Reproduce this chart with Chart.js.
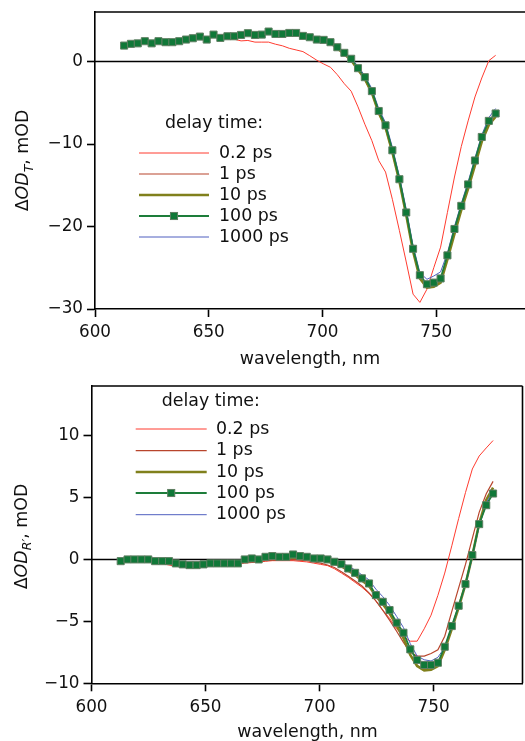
<!DOCTYPE html>
<html><head><meta charset="utf-8">
<script src="https://cdn.jsdelivr.net/npm/chart.js@4/dist/chart.umd.min.js"></script>
<style>
html,body{margin:0;padding:0;background:#fff;}
#w{position:relative;width:525px;height:741px;overflow:hidden;background:#fff;}
.c{position:absolute;left:0;width:525px;}
</style></head><body>
<div id="w">
<div class="c" style="top:0;height:371px"><canvas id="c1" width="525" height="371"></canvas></div>
<div class="c" style="top:371px;height:370px"><canvas id="c2" width="525" height="370"></canvas></div>
</div>
<script>
// ---------- data ----------
const wavelengths = [612.8,615.8,618.8,621.9,624.9,627.9,631.0,634.0,637.0,640.0,643.0,646.1,649.1,652.1,655.1,658.2,661.2,664.2,667.2,670.3,673.3,676.3,679.3,682.4,685.4,688.4,691.4,694.4,697.5,700.5,703.5,706.5,709.6,712.6,715.6,718.6,721.7,724.7,727.7,730.7,733.8,736.8,739.8,742.8,745.9,748.9,751.9,754.9,758.0,761.0,764.0,767.0,770.0,773.1,776.1];
const seriesLabels = ['0.2 ps','1 ps','10 ps','100 ps','1000 ps'];
const legendTitle = 'delay time:';
const xTicks = [600,650,700,750];
const yTicksTop = [-30,-20,-10,0];
const yTicksBottom = [-10,-5,0,5,10];

// top panel: ΔOD_T, mOD
const topT_02ps = [1.9,2.1,2.2,2.4,2.25,2.4,2.35,2.3,2.45,2.6,2.75,2.95,2.7,3.1,2.85,2.75,2.7,2.5,2.55,2.35,2.35,2.35,2.1,1.9,1.6,1.4,1.2,0.7,0.15,-0.3,-0.7,-1.6,-2.7,-3.6,-5.5,-7.6,-9.6,-12.0,-13.4,-16.7,-20.5,-24.3,-28.2,-29.2,-27.6,-25.0,-22.5,-18.3,-14.0,-10.3,-7.2,-4.3,-2.0,0.1,0.75];
const topT_1ps = [1.9,2.1,2.2,2.4,2.25,2.4,2.35,2.35,2.45,2.6,2.8,2.95,2.75,3.15,2.9,3.0,3.05,3.15,3.35,3.2,3.25,3.5,3.3,3.3,3.4,3.35,3.05,2.85,2.6,2.5,2.2,1.6,0.9,0.1,-1.0,-2.2,-3.9,-6.3,-8.1,-11.1,-14.6,-18.7,-23.0,-26.3,-27.3,-27.2,-26.6,-23.9,-20.8,-17.9,-15.3,-12.5,-9.6,-7.6,-6.6];
const topT_10ps = [1.95,2.1,2.2,2.4,2.25,2.4,2.35,2.35,2.5,2.6,2.8,2.95,2.75,3.15,2.9,3.05,3.05,3.2,3.35,3.2,3.3,3.5,3.35,3.35,3.4,3.4,3.05,2.9,2.6,2.5,2.25,1.6,0.9,0.15,-1.0,-2.1,-3.8,-6.2,-8.0,-11.0,-14.5,-18.6,-23.0,-26.3,-27.4,-27.3,-26.8,-24.0,-20.9,-18.0,-15.4,-12.6,-9.7,-7.7,-6.7];
const topT_100ps = [1.93,2.14,2.2,2.46,2.2,2.46,2.34,2.34,2.46,2.66,2.82,3.02,2.66,3.26,2.86,3.06,3.06,3.22,3.43,3.22,3.26,3.63,3.34,3.34,3.46,3.46,3.1,2.94,2.66,2.62,2.34,1.73,1.05,0.33,-0.81,-1.9,-3.59,-6.0,-7.74,-10.76,-14.27,-18.3,-22.7,-25.9,-27.0,-26.8,-26.3,-23.5,-20.3,-17.5,-14.9,-12.0,-9.15,-7.2,-6.3];
const topT_1000ps = [1.95,2.15,2.2,2.45,2.25,2.45,2.35,2.35,2.5,2.65,2.8,3.0,2.7,3.2,2.9,3.05,3.05,3.2,3.4,3.2,3.3,3.6,3.35,3.35,3.45,3.45,3.1,2.95,2.7,2.65,2.4,1.8,1.15,0.45,-0.6,-1.7,-3.3,-5.7,-7.4,-10.4,-13.9,-17.9,-22.3,-25.6,-26.4,-26.0,-25.5,-23.2,-20.0,-17.2,-14.6,-11.7,-8.9,-6.8,-5.7];

// bottom panel: ΔOD_R', mOD
const botR_02ps = [-0.15,-0.1,-0.1,-0.15,-0.2,-0.3,-0.35,-0.45,-0.55,-0.6,-0.65,-0.65,-0.6,-0.55,-0.5,-0.45,-0.4,-0.35,-0.3,-0.25,-0.2,-0.15,-0.1,-0.1,-0.1,-0.1,-0.15,-0.2,-0.3,-0.4,-0.5,-0.75,-1.1,-1.45,-1.85,-2.25,-2.75,-3.35,-4.1,-4.75,-5.6,-6.2,-6.6,-6.6,-5.6,-4.5,-2.9,-1.1,1.1,3.3,5.4,7.3,8.35,9.0,9.6];
const botR_1ps = [-0.15,-0.1,-0.1,-0.1,-0.15,-0.25,-0.3,-0.4,-0.45,-0.55,-0.6,-0.6,-0.55,-0.5,-0.45,-0.4,-0.35,-0.3,-0.25,-0.2,-0.15,-0.1,-0.05,-0.05,-0.05,0.0,-0.05,-0.1,-0.2,-0.3,-0.45,-0.65,-1.0,-1.35,-1.75,-2.15,-2.7,-3.35,-4.1,-4.9,-5.8,-6.7,-7.5,-7.8,-7.8,-7.6,-7.3,-6.2,-4.2,-2.3,-0.4,1.7,3.8,5.3,6.3];
const botR_10ps = [-0.15,-0.05,-0.05,-0.05,-0.1,-0.2,-0.2,-0.25,-0.35,-0.45,-0.5,-0.5,-0.45,-0.4,-0.35,-0.35,-0.3,-0.25,-0.1,-0.05,-0.05,0.05,0.1,0.1,0.1,0.15,0.1,0.05,0.0,-0.05,-0.15,-0.35,-0.55,-0.9,-1.25,-1.7,-2.15,-2.95,-3.6,-4.35,-5.35,-6.35,-7.7,-8.6,-8.95,-8.9,-8.6,-7.3,-5.6,-3.9,-2.0,0.3,2.9,4.8,5.8];
const botR_100ps = [-0.14,0.0,0.0,0.0,0.0,-0.14,-0.14,-0.14,-0.32,-0.4,-0.46,-0.46,-0.4,-0.32,-0.32,-0.32,-0.32,-0.32,0.0,0.08,0.0,0.21,0.27,0.21,0.21,0.4,0.27,0.21,0.08,0.08,0.0,-0.19,-0.38,-0.73,-1.08,-1.53,-1.94,-2.88,-3.42,-4.09,-5.11,-5.92,-7.26,-8.12,-8.52,-8.52,-8.34,-7.05,-5.38,-3.74,-1.99,0.35,2.85,4.38,5.32];
const botR_1000ps = [-0.1,0.0,0.0,0.0,-0.05,-0.1,-0.15,-0.15,-0.25,-0.35,-0.4,-0.4,-0.35,-0.3,-0.3,-0.25,-0.25,-0.2,-0.05,0.05,0.05,0.15,0.2,0.2,0.2,0.3,0.25,0.2,0.1,0.05,0.05,-0.1,-0.25,-0.55,-0.85,-1.25,-1.65,-2.4,-3.0,-3.7,-4.6,-5.5,-6.8,-7.8,-8.1,-8.2,-7.9,-7.1,-5.5,-3.8,-2.1,0.2,2.7,4.6,5.5];

// ---------- styles ----------
const seriesStyles = [
  {color:'#ff3b2f', width:1.0, order:5},
  {color:'#b8452c', width:1.2, order:4},
  {color:'#80801c', width:2.6, order:3},
  {color:'#1d7d3a', width:1.8, order:1, marker:true},
  {color:'#4f5fbf', width:1.0, order:2}
];
const FONT = 'DejaVu Sans';
const TEXT = 17.4, TICK = 16.8;

function fmt(v){ return v < 0 ? '\u2212' + (-v) : String(v); }

function makeDatasets(series){
  return series.map((vals, i) => {
    const s = seriesStyles[i];
    return {
      label: seriesLabels[i],
      data: wavelengths.map((x, k) => ({x: x, y: vals[k]})),
      borderColor: s.color,
      backgroundColor: s.color,
      borderWidth: s.width,
      pointStyle: 'rect',
      pointRadius: s.marker ? 5 : 0,
      pointHoverRadius: 0,
      pointBackgroundColor: '#107838',
      pointBorderColor: '#5f7f62',
      pointBorderWidth: 1,
      tension: 0,
      order: s.order
    };
  });
}

function drawYTitle(ctx, bx, cy, parts){
  const items = parts.map(p => {
    const size = p.sub ? TEXT * 0.72 : TEXT;
    const font = (p.it ? 'italic ' : '') + size + 'px "' + FONT + '"';
    ctx.font = font;
    return {t: p.t, font: font, w: ctx.measureText(p.t).width, sub: p.sub};
  });
  const total = items.reduce((a, b) => a + b.w, 0);
  ctx.save();
  ctx.translate(bx, cy);
  ctx.rotate(-Math.PI / 2);
  ctx.fillStyle = '#111';
  ctx.textBaseline = 'alphabetic';
  ctx.textAlign = 'left';
  let x = -total / 2;
  items.forEach(it => {
    ctx.font = it.font;
    ctx.fillText(it.t, x, it.sub ? 4.5 : 0);
    x += it.w;
  });
  ctx.restore();
}

function decoPlugin(cfg){
  return {
    id: 'deco',
    beforeDatasetsDraw(chart){
      const ctx = chart.ctx, a = chart.chartArea, y0 = chart.scales.y.getPixelForValue(0);
      ctx.save();
      ctx.strokeStyle = '#000'; ctx.lineWidth = 1.6;
      ctx.beginPath(); ctx.moveTo(a.left, y0); ctx.lineTo(a.right, y0); ctx.stroke();
      ctx.restore();
    },
    afterDraw(chart){
      const ctx = chart.ctx, a = chart.chartArea;
      ctx.save();
      ctx.strokeStyle = '#000'; ctx.lineWidth = 1.6;
      ctx.beginPath(); ctx.moveTo(a.left, a.top); ctx.lineTo(a.right, a.top);
      if (cfg.rightBorder){ ctx.moveTo(a.right, a.top); ctx.lineTo(a.right, a.bottom); }
      ctx.stroke();
      // x title
      ctx.fillStyle = '#111';
      ctx.font = TEXT + 'px "' + FONT + '"';
      ctx.textAlign = 'center'; ctx.textBaseline = 'middle';
      ctx.fillText('wavelength, nm', cfg.xTitle[0], cfg.xTitle[1]);
      // y title
      drawYTitle(ctx, cfg.yTitle[0], cfg.yTitle[1], cfg.yParts);
      // legend
      const L = cfg.legend;
      ctx.textAlign = 'left'; ctx.textBaseline = 'middle';
      ctx.fillStyle = '#111';
      ctx.font = TEXT + 'px "' + FONT + '"';
      ctx.fillText(legendTitle, L.titleX, L.titleY);
      chart.data.datasets.forEach((ds, i) => {
        const y = L.rows[i];
        ctx.strokeStyle = ds.borderColor; ctx.lineWidth = ds.borderWidth;
        ctx.beginPath(); ctx.moveTo(L.x0, y); ctx.lineTo(L.x1, y); ctx.stroke();
        if (ds.pointRadius > 0){
          const h = ds.pointRadius * Math.SQRT1_2;
          const mx = (L.x0 + L.x1) / 2;
          ctx.fillStyle = ds.pointBackgroundColor;
          ctx.fillRect(mx - h, y - h, 2 * h, 2 * h);
          ctx.strokeStyle = ds.pointBorderColor; ctx.lineWidth = 1;
          ctx.strokeRect(mx - h, y - h, 2 * h, 2 * h);
        }
        ctx.fillStyle = '#111';
        ctx.fillText(ds.label, L.tx, y);
      });
      ctx.restore();
    }
  };
}

function makeChart(id, series, ymin, ymax, yTicks, lay, deco){
  return new Chart(document.getElementById(id), {
    type: 'line',
    data: {datasets: makeDatasets(series)},
    options: {
      responsive: false, animation: false, devicePixelRatio: 1,
      layout: {autoPadding: false, padding: {top: lay.top, right: lay.right, left: 0, bottom: 0}},
      plugins: {legend: {display: false}, tooltip: {enabled: false}},
      scales: {
        x: {
          type: 'linear', min: 600, max: 789,
          afterBuildTicks: s => { s.ticks = xTicks.map(v => ({value: v})); },
          afterFit: s => { s.height = lay.xh; s.paddingLeft = 0; s.paddingRight = 0; s.paddingTop = 0; s.paddingBottom = 0; },
          grid: {display: true, drawOnChartArea: false, drawTicks: true, tickLength: 8, tickWidth: 1.6, tickColor: '#000'},
          border: {display: true, color: '#000', width: 1.6},
          ticks: {color: '#111', font: {family: FONT, size: TICK}, padding: 6, maxRotation: 0, autoSkip: false, callback: v => fmt(v)}
        },
        y: {
          type: 'linear', min: ymin, max: ymax,
          afterBuildTicks: s => { s.ticks = yTicks.map(v => ({value: v})); },
          afterFit: s => { s.width = lay.yw; s.paddingLeft = 0; s.paddingRight = 0; s.paddingTop = 0; s.paddingBottom = 0; },
          grid: {display: true, drawOnChartArea: false, drawTicks: true, tickLength: 8, tickWidth: 1.6, tickColor: '#000'},
          border: {display: true, color: '#000', width: 1.6},
          ticks: {color: '#111', font: {family: FONT, size: TICK}, padding: 4, autoSkip: false, callback: v => fmt(v)}
        }
      }
    },
    plugins: [decoPlugin(deco)]
  });
}

makeChart('c1', [topT_02ps, topT_1ps, topT_10ps, topT_100ps, topT_1000ps], -30, 6, yTicksTop,
  {top: 12, right: 0, xh: 62, yw: 95},
  {rightBorder: false, xTitle: [310, 359], yTitle: [28, 160.5],
   yParts: [{t:'\u0394'},{t:'OD',it:true},{t:'T',it:true,sub:true},{t:', mOD'}],
   legend: {titleX: 165, titleY: 123, rows: [153,174,195,216,237], x0: 139, x1: 209, tx: 219}});

makeChart('c2', [botR_02ps, botR_1ps, botR_10ps, botR_100ps, botR_1000ps], -10, 14, yTicksBottom,
  {top: 15, right: 2.5, xh: 57.7, yw: 91.5},
  {rightBorder: true, xTitle: [307.5, 361.5], yTitle: [26.5, 165.5],
   yParts: [{t:'\u0394'},{t:'OD',it:true},{t:'R\u2032',it:true,sub:true},{t:', mOD'}],
   legend: {titleX: 161.7, titleY: 30, rows: [58,79.7,101,122,143.7], x0: 135.7, x1: 206.7, tx: 216}});
</script>
</body></html>
